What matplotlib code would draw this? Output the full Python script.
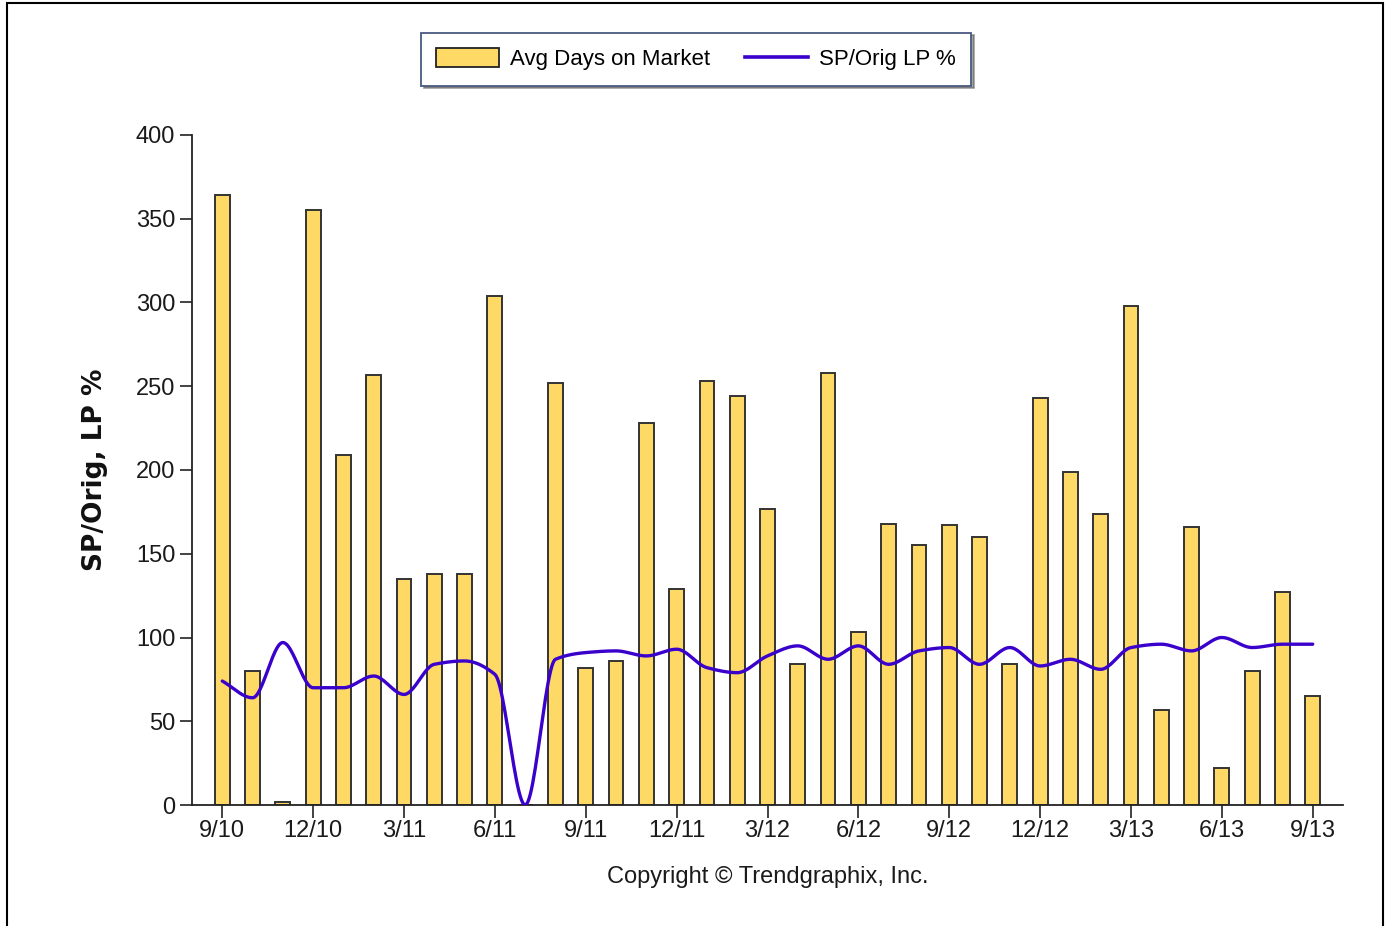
import numpy as np
import matplotlib
matplotlib.use("Agg")
import matplotlib.pyplot as plt
from matplotlib.patches import Rectangle, Patch
from matplotlib.lines import Line2D

months = ["9/10", "10/10", "11/10", "12/10", "1/11", "2/11", "3/11", "4/11", "5/11", "6/11",
          "7/11", "8/11", "9/11", "10/11", "11/11", "12/11", "1/12", "2/12", "3/12", "4/12",
          "5/12", "6/12", "7/12", "8/12", "9/12", "10/12", "11/12", "12/12", "1/13", "2/13",
          "3/13", "4/13", "5/13", "6/13", "7/13", "8/13", "9/13"]
avg_days = [364, 80, 2, 355, 209, 257, 135, 138, 138, 304,
            0, 252, 82, 86, 228, 129, 253, 244, 177, 84,
            258, 103, 168, 155, 167, 160, 84, 243, 199, 174,
            298, 57, 166, 22, 80, 127, 65]
sp_orig = [74, 64, 97, 70, 70, 77, 66, 84, 86, 78,
           0, 87, 91, 92, 89, 93, 82, 79, 89, 95,
           87, 95, 84, 92, 94, 84, 94, 83, 87, 81,
           94, 96, 92, 100, 94, 96, 96]
tick_labels = ["9/10", "12/10", "3/11", "6/11", "9/11", "12/11", "3/12", "6/12",
               "9/12", "12/12", "3/13", "6/13", "9/13"]

plt.rcParams['font.family'] = ['Liberation Sans', 'DejaVu Sans']

fig = plt.figure(figsize=(13.86, 9.26), dpi=100)
ax = fig.add_axes([192/1386, 1-805/926, (1343-192)/1386, (805-135)/926])

x = np.arange(len(months))
bar_color = "#FFD966"
ax.bar(x, avg_days, width=0.49, color=bar_color, edgecolor="#333333", linewidth=1.4, zorder=2)

# monotone cubic (Fritsch-Carlson) smoothing for drawing the line
def pchip(xs, ys, n=24):
    xs = np.asarray(xs, float); ys = np.asarray(ys, float)
    h = np.diff(xs); d = np.diff(ys) / h
    m = np.zeros_like(ys)
    m[0] = d[0]; m[-1] = d[-1]
    for i in range(1, len(ys)-1):
        if d[i-1] * d[i] <= 0:
            m[i] = 0.0
        else:
            w1 = 2*h[i] + h[i-1]; w2 = h[i] + 2*h[i-1]
            m[i] = (w1 + w2) / (w1/d[i-1] + w2/d[i])
    ox, oy = [], []
    t = np.linspace(0, 1, n, endpoint=False)
    for i in range(len(xs)-1):
        h00 = 2*t**3 - 3*t**2 + 1; h10 = t**3 - 2*t**2 + t
        h01 = -2*t**3 + 3*t**2; h11 = t**3 - t**2
        ox.extend(xs[i] + t*h[i])
        oy.extend(h00*ys[i] + h10*h[i]*m[i] + h01*ys[i+1] + h11*h[i]*m[i+1])
    ox.append(xs[-1]); oy.append(ys[-1])
    return np.array(ox), np.array(oy)

sx, sy = pchip(x, sp_orig)
ax.plot(sx, sy, color="#3A00CC", linewidth=2.4, zorder=3, solid_capstyle='round')

ax.set_xlim(-1, 37)
ax.set_ylim(0, 400)
ax.set_yticks(np.arange(0, 401, 50))
tick_pos = [months.index(m) for m in tick_labels]
ax.set_xticks(tick_pos)
ax.set_xticklabels(tick_labels)
ax.spines['top'].set_visible(False)
ax.spines['right'].set_visible(False)
for s in ('left', 'bottom'):
    ax.spines[s].set_linewidth(1.3)
    ax.spines[s].set_color("#222222")
ax.tick_params(axis='both', direction='out', length=9, width=1.2, colors="#222222",
               labelsize=17, labelcolor="#1a1a1a")
ax.tick_params(axis='y', pad=3)
ax.tick_params(axis='x', pad=2)

ax.set_ylabel("SP/Orig, LP %", fontsize=19, fontweight='bold', labelpad=20, color="#111111",
              family=['DejaVu Sans'])

fig.text(768/1386, 1-877/926, "Copyright \u00a9 Trendgraphix, Inc.", ha='center', va='center',
         fontsize=17, color="#1a1a1a")

handles = [Patch(facecolor=bar_color, edgecolor="#222222", linewidth=1.3, label="Avg Days on Market"),
           Line2D([0], [0], color="#3A00CC", linewidth=2.6, label="SP/Orig LP %")]
leg = fig.legend(handles=handles, loc='center', bbox_to_anchor=(696/1386, 1-59/926), ncol=2,
                 fontsize=16, frameon=True, fancybox=False, shadow=True, borderpad=0.7,
                 columnspacing=1.6, handlelength=2.8, handleheight=0.9, handletextpad=0.5,
                 borderaxespad=0)
leg.get_frame().set_edgecolor("#4a5a80")
leg.get_frame().set_linewidth(1.3)

fig.patches.append(Rectangle((7/1386, -0.01), (1383-7)/1386, 1.01-3/926, transform=fig.transFigure,
                             fill=False, edgecolor="black", linewidth=1.5))

fig.savefig("out.png", dpi=100, facecolor="white")
